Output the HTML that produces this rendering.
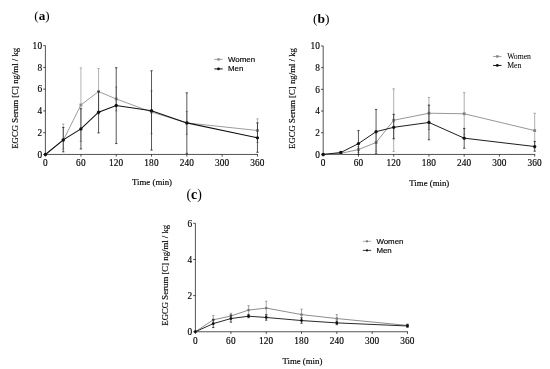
<!DOCTYPE html>
<html><head><meta charset="utf-8"><title>EGCG Serum</title>
<style>html,body{margin:0;padding:0;background:#fff}svg{display:block;will-change:transform;transform:translateZ(0)}</style></head>
<body>
<svg width="550" height="369" viewBox="0 0 550 369">
<rect width="550" height="369" fill="#fff"/>
<g font-family="'Liberation Serif', serif" font-size="8.8" fill="#000" stroke="#000" stroke-width="0.15">
<path d="M45.4 45.65 V154.45 H257.96" fill="none" stroke="#111" stroke-width="0.72"/>
<text x="42.2" y="157.75" text-anchor="end" font-size="9.3" letter-spacing="0.15">0</text>
<text x="42.2" y="135.99" text-anchor="end" font-size="9.3" letter-spacing="0.15">2</text>
<text x="42.2" y="114.23" text-anchor="end" font-size="9.3" letter-spacing="0.15">4</text>
<text x="42.2" y="92.47" text-anchor="end" font-size="9.3" letter-spacing="0.15">6</text>
<text x="42.2" y="70.71" text-anchor="end" font-size="9.3" letter-spacing="0.15">8</text>
<text x="42.2" y="48.95" text-anchor="end" font-size="9.3" letter-spacing="0.15">10</text>
<text x="45.4" y="166.15" text-anchor="middle" font-size="9.3" letter-spacing="0.15">0</text>
<text x="80.91" y="166.15" text-anchor="middle" font-size="9.3" letter-spacing="0.15">60</text>
<text x="116.22" y="166.15" text-anchor="middle" font-size="9.3" letter-spacing="0.15">120</text>
<text x="151.53" y="166.15" text-anchor="middle" font-size="9.3" letter-spacing="0.15">180</text>
<text x="186.84" y="166.15" text-anchor="middle" font-size="9.3" letter-spacing="0.15">240</text>
<text x="222.15" y="166.15" text-anchor="middle" font-size="9.3" letter-spacing="0.15">300</text>
<text x="257.46" y="166.15" text-anchor="middle" font-size="9.3" letter-spacing="0.15">360</text>
<path d="M45.4 154.45h-2.2M45.4 132.69h-2.2M45.4 110.93h-2.2M45.4 89.17h-2.2M45.4 67.41h-2.2M45.4 45.65h-2.2M45.4 154.45v2.2M80.91 154.45v2.2M116.22 154.45v2.2M151.53 154.45v2.2M186.84 154.45v2.2M222.15 154.45v2.2M257.46 154.45v2.2" fill="none" stroke="#111" stroke-width="0.72"/>
<text transform="translate(17.5 98.3) rotate(-90)" text-anchor="middle" font-size="8.75">EGCG Serum [C] ng/ml / kg</text>
<text x="152" y="184.8" text-anchor="middle">Time (min)</text>
<text x="34.3" y="19.8" font-size="13.1" font-weight="bold" fill="#000" stroke="none"><tspan font-weight="normal">(</tspan>a<tspan font-weight="normal">)</tspan></text>
</g>
<path d="M63.26 123.99V149.01M62.05 123.99h2.4M62.05 149.01h2.4M80.91 67.95V141.39M79.71 67.95h2.4M79.71 141.39h2.4M98.57 68.5V114.19M97.37 68.5h2.4M97.37 114.19h2.4M116.22 86.99V110.93M115.02 86.99h2.4M115.02 110.93h2.4M151.53 90.8V133.78M150.33 90.8h2.4M150.33 133.78h2.4M186.84 111.47V134.32M185.64 111.47h2.4M185.64 134.32h2.4M257.46 118.87V142.48M256.26 118.87h2.4M256.26 142.48h2.4" fill="none" stroke="#8a8a8a" stroke-width="0.65"/>
<polyline points="45.4,154.45 63.26,140.31 80.91,104.95 98.57,91.56 116.22,98.96 151.53,112.02 186.84,122.9 257.46,130.51" fill="none" stroke="#8a8a8a" stroke-width="0.85"/>
<rect x="44" y="153.05" width="2.8" height="2.8" fill="#8a8a8a"/>
<rect x="61.86" y="138.91" width="2.8" height="2.8" fill="#8a8a8a"/>
<rect x="79.51" y="103.55" width="2.8" height="2.8" fill="#8a8a8a"/>
<rect x="97.17" y="90.16" width="2.8" height="2.8" fill="#8a8a8a"/>
<rect x="114.82" y="97.56" width="2.8" height="2.8" fill="#8a8a8a"/>
<rect x="150.13" y="110.62" width="2.8" height="2.8" fill="#8a8a8a"/>
<rect x="185.44" y="121.5" width="2.8" height="2.8" fill="#8a8a8a"/>
<rect x="256.06" y="129.11" width="2.8" height="2.8" fill="#8a8a8a"/>
<path d="M63.26 127.47V151.84M62.05 127.47h2.4M62.05 151.84h2.4M80.91 108.75V149.01M79.71 108.75h2.4M79.71 149.01h2.4M98.57 91.35V132.91M97.37 91.35h2.4M97.37 132.91h2.4M116.22 67.74V143.57M115.02 67.74h2.4M115.02 143.57h2.4M151.53 70.78V150.1M150.33 70.78h2.4M150.33 150.1h2.4M186.84 92.87V153.36M185.64 92.87h2.4M185.64 153.36h2.4M257.46 122.9V152.27M256.26 122.9h2.4M256.26 152.27h2.4" fill="none" stroke="#111" stroke-width="0.7"/>
<polyline points="45.4,154.45 63.26,139.87 80.91,128.88 98.57,112.13 116.22,105.49 151.53,110.71 186.84,122.9 257.46,137.8" fill="none" stroke="#111" stroke-width="1.1"/>
<circle cx="45.4" cy="154.45" r="1.65" fill="#111"/>
<circle cx="63.26" cy="139.87" r="1.65" fill="#111"/>
<circle cx="80.91" cy="128.88" r="1.65" fill="#111"/>
<circle cx="98.57" cy="112.13" r="1.65" fill="#111"/>
<circle cx="116.22" cy="105.49" r="1.65" fill="#111"/>
<circle cx="151.53" cy="110.71" r="1.65" fill="#111"/>
<circle cx="186.84" cy="122.9" r="1.65" fill="#111"/>
<circle cx="257.46" cy="137.8" r="1.65" fill="#111"/>
<path d="M214.3 59.4h8.4" stroke="#8a8a8a" stroke-width="0.8"/>
<rect x="217.3" y="58.2" width="2.4" height="2.4" fill="#8a8a8a"/>
<path d="M214.3 68.9h8.4" stroke="#111" stroke-width="1"/>
<circle cx="218.5" cy="68.9" r="1.4" fill="#111"/>
<g font-family="'Liberation Sans', sans-serif" font-size="7.9" fill="#000" stroke="#000" stroke-width="0.15"><text x="228" y="62.1">Women</text><text x="228" y="71.4">Men</text></g>
<g font-family="'Liberation Serif', serif" font-size="8.8" fill="#000" stroke="#000" stroke-width="0.15">
<path d="M323.2 45.95 V154.45 H535.2" fill="none" stroke="#111" stroke-width="0.72"/>
<text x="320" y="157.75" text-anchor="end" font-size="9.3" letter-spacing="0.15">0</text>
<text x="320" y="136.05" text-anchor="end" font-size="9.3" letter-spacing="0.15">2</text>
<text x="320" y="114.35" text-anchor="end" font-size="9.3" letter-spacing="0.15">4</text>
<text x="320" y="92.65" text-anchor="end" font-size="9.3" letter-spacing="0.15">6</text>
<text x="320" y="70.95" text-anchor="end" font-size="9.3" letter-spacing="0.15">8</text>
<text x="320" y="49.25" text-anchor="end" font-size="9.3" letter-spacing="0.15">10</text>
<text x="323.2" y="166.15" text-anchor="middle" font-size="9.3" letter-spacing="0.15">0</text>
<text x="358.45" y="166.15" text-anchor="middle" font-size="9.3" letter-spacing="0.15">60</text>
<text x="393.7" y="166.15" text-anchor="middle" font-size="9.3" letter-spacing="0.15">120</text>
<text x="428.95" y="166.15" text-anchor="middle" font-size="9.3" letter-spacing="0.15">180</text>
<text x="464.2" y="166.15" text-anchor="middle" font-size="9.3" letter-spacing="0.15">240</text>
<text x="499.45" y="166.15" text-anchor="middle" font-size="9.3" letter-spacing="0.15">300</text>
<text x="534.7" y="166.15" text-anchor="middle" font-size="9.3" letter-spacing="0.15">360</text>
<path d="M323.2 154.45h-2.2M323.2 132.75h-2.2M323.2 111.05h-2.2M323.2 89.35h-2.2M323.2 67.65h-2.2M323.2 45.95h-2.2M323.2 154.45v2.2M358.45 154.45v2.2M393.7 154.45v2.2M428.95 154.45v2.2M464.2 154.45v2.2M499.45 154.45v2.2M534.7 154.45v2.2" fill="none" stroke="#111" stroke-width="0.72"/>
<text transform="translate(294.6 98.5) rotate(-90)" text-anchor="middle" font-size="8.75">EGCG Serum [C] ng/ml / kg</text>
<text x="429.3" y="185.8" text-anchor="middle">Time (min)</text>
<text x="313" y="23" font-size="13.5" font-weight="bold" fill="#000" stroke="none"><tspan font-weight="normal">(</tspan>b<tspan font-weight="normal">)</tspan></text>
</g>
<path d="M340.82 152.82V153.91M339.62 152.82h2.4M339.62 153.91h2.4M358.45 146.85V152.28M357.25 146.85h2.4M357.25 152.28h2.4M376.07 133.83V151.19M374.88 133.83h2.4M374.88 151.19h2.4M393.7 88.81V151.41M392.5 88.81h2.4M392.5 151.41h2.4M428.95 97.49V129.5M427.75 97.49h2.4M427.75 129.5h2.4M464.2 92.6V134.92M463 92.6h2.4M463 134.92h2.4M534.7 113.22V147.94M533.5 113.22h2.4M533.5 147.94h2.4" fill="none" stroke="#848484" stroke-width="0.65"/>
<polyline points="323.2,154.45 340.82,153.36 358.45,149.57 376.07,142.51 393.7,120.27 428.95,113.22 464.2,113.76 534.7,130.58" fill="none" stroke="#848484" stroke-width="0.85"/>
<rect x="321.8" y="153.05" width="2.8" height="2.8" fill="#848484"/>
<rect x="339.43" y="151.96" width="2.8" height="2.8" fill="#848484"/>
<rect x="357.05" y="148.17" width="2.8" height="2.8" fill="#848484"/>
<rect x="374.68" y="141.11" width="2.8" height="2.8" fill="#848484"/>
<rect x="392.3" y="118.87" width="2.8" height="2.8" fill="#848484"/>
<rect x="427.55" y="111.82" width="2.8" height="2.8" fill="#848484"/>
<rect x="462.8" y="112.36" width="2.8" height="2.8" fill="#848484"/>
<rect x="533.3" y="129.18" width="2.8" height="2.8" fill="#848484"/>
<path d="M340.82 151.63V153.36M339.62 151.63h2.4M339.62 153.36h2.4M358.45 130.58V154.45M357.25 130.58h2.4M357.25 154.45h2.4M376.07 109.42V153.36M374.88 109.42h2.4M374.88 153.36h2.4M393.7 114.3V138.72M392.5 114.3h2.4M392.5 138.72h2.4M428.95 105.08V139.8M427.75 105.08h2.4M427.75 139.8h2.4M464.2 128.41V148.27M463 128.41h2.4M463 148.27h2.4M534.7 141.43V151.19M533.5 141.43h2.4M533.5 151.19h2.4" fill="none" stroke="#111" stroke-width="0.7"/>
<polyline points="323.2,154.45 340.82,152.5 358.45,143.6 376.07,131.66 393.7,127.32 428.95,122.44 464.2,138.17 534.7,146.53" fill="none" stroke="#111" stroke-width="0.95"/>
<circle cx="323.2" cy="154.45" r="1.65" fill="#111"/>
<circle cx="340.82" cy="152.5" r="1.65" fill="#111"/>
<circle cx="358.45" cy="143.6" r="1.65" fill="#111"/>
<circle cx="376.07" cy="131.66" r="1.65" fill="#111"/>
<circle cx="393.7" cy="127.32" r="1.65" fill="#111"/>
<circle cx="428.95" cy="122.44" r="1.65" fill="#111"/>
<circle cx="464.2" cy="138.17" r="1.65" fill="#111"/>
<circle cx="534.7" cy="146.53" r="1.65" fill="#111"/>
<path d="M493.1 56.45h8.4" stroke="#848484" stroke-width="0.8"/>
<rect x="496.1" y="55.25" width="2.4" height="2.4" fill="#848484"/>
<path d="M493.1 65.45h8.4" stroke="#111" stroke-width="1"/>
<circle cx="497.3" cy="65.45" r="1.4" fill="#111"/>
<g font-family="'Liberation Serif', sans-serif" font-size="7.7" fill="#000" stroke="#000" stroke-width="0.05"><text x="507.2" y="59.15">Women</text><text x="507.2" y="67.95">Men</text></g>
<g font-family="'Liberation Serif', serif" font-size="8.8" fill="#000" stroke="#000" stroke-width="0.15">
<path d="M195.4 223.33 V331.75 H407.96" fill="none" stroke="#111" stroke-width="0.72"/>
<text x="192.2" y="335.05" text-anchor="end" font-size="9.3" letter-spacing="0.15">0</text>
<text x="192.2" y="298.91" text-anchor="end" font-size="9.3" letter-spacing="0.15">2</text>
<text x="192.2" y="262.77" text-anchor="end" font-size="9.3" letter-spacing="0.15">4</text>
<text x="192.2" y="226.63" text-anchor="end" font-size="9.3" letter-spacing="0.15">6</text>
<text x="195.4" y="344.25" text-anchor="middle" font-size="9.3" letter-spacing="0.15">0</text>
<text x="230.91" y="344.25" text-anchor="middle" font-size="9.3" letter-spacing="0.15">60</text>
<text x="266.22" y="344.25" text-anchor="middle" font-size="9.3" letter-spacing="0.15">120</text>
<text x="301.53" y="344.25" text-anchor="middle" font-size="9.3" letter-spacing="0.15">180</text>
<text x="336.84" y="344.25" text-anchor="middle" font-size="9.3" letter-spacing="0.15">240</text>
<text x="372.15" y="344.25" text-anchor="middle" font-size="9.3" letter-spacing="0.15">300</text>
<text x="407.46" y="344.25" text-anchor="middle" font-size="9.3" letter-spacing="0.15">360</text>
<path d="M195.4 331.75h-2.2M195.4 295.61h-2.2M195.4 259.47h-2.2M195.4 223.33h-2.2M195.4 331.75v2.2M230.91 331.75v2.2M266.22 331.75v2.2M301.53 331.75v2.2M336.84 331.75v2.2M372.15 331.75v2.2M407.46 331.75v2.2" fill="none" stroke="#111" stroke-width="0.72"/>
<text transform="translate(167.7 275.2) rotate(-90)" text-anchor="middle" font-size="8.75">EGCG Serum [C] ng/ml / kg</text>
<text x="302.4" y="364" text-anchor="middle">Time (min)</text>
<text x="186.4" y="199.2" font-size="13.9" font-weight="bold" fill="#000" stroke="none"><tspan font-weight="normal">(</tspan>c<tspan font-weight="normal">)</tspan></text>
</g>
<path d="M213.25 315.49V324.16M212.06 315.49h2.4M212.06 324.16h2.4M230.91 313.32V318.74M229.71 313.32h2.4M229.71 318.74h2.4M248.56 305.73V314.4M247.37 305.73h2.4M247.37 314.4h2.4M266.22 301.21V314.94M265.02 301.21h2.4M265.02 314.94h2.4M301.53 309.16V320M300.33 309.16h2.4M300.33 320h2.4M336.84 314.58V322.53M335.64 314.58h2.4M335.64 322.53h2.4M407.46 323.98V326.87M406.26 323.98h2.4M406.26 326.87h2.4" fill="none" stroke="#787878" stroke-width="0.65"/>
<polyline points="195.4,331.75 213.25,319.82 230.91,316.03 248.56,310.07 266.22,308.08 301.53,314.58 336.84,318.56 407.46,325.43" fill="none" stroke="#787878" stroke-width="0.85"/>
<rect x="194.25" y="330.6" width="2.3" height="2.3" fill="#787878"/>
<rect x="212.1" y="318.67" width="2.3" height="2.3" fill="#787878"/>
<rect x="229.76" y="314.88" width="2.3" height="2.3" fill="#787878"/>
<rect x="247.41" y="308.92" width="2.3" height="2.3" fill="#787878"/>
<rect x="265.07" y="306.93" width="2.3" height="2.3" fill="#787878"/>
<rect x="300.38" y="313.43" width="2.3" height="2.3" fill="#787878"/>
<rect x="335.69" y="317.41" width="2.3" height="2.3" fill="#787878"/>
<rect x="406.31" y="324.28" width="2.3" height="2.3" fill="#787878"/>
<path d="M213.25 319.64V327.59M212.06 319.64h2.4M212.06 327.59h2.4M230.91 314.94V322.17M229.71 314.94h2.4M229.71 322.17h2.4M248.56 314.76V317.66M247.37 314.76h2.4M247.37 317.66h2.4M266.22 314.76V320.19M265.02 314.76h2.4M265.02 320.19h2.4M301.53 317.84V323.26M300.33 317.84h2.4M300.33 323.26h2.4M336.84 321.09V324.7M335.64 321.09h2.4M335.64 324.7h2.4M407.46 324.7V327.23M406.26 324.7h2.4M406.26 327.23h2.4" fill="none" stroke="#111" stroke-width="0.7"/>
<polyline points="195.4,331.75 213.25,323.62 230.91,318.56 248.56,316.21 266.22,317.47 301.53,320.55 336.84,322.9 407.46,325.97" fill="none" stroke="#111" stroke-width="0.9"/>
<circle cx="195.4" cy="331.75" r="1.4" fill="#111"/>
<circle cx="213.25" cy="323.62" r="1.4" fill="#111"/>
<circle cx="230.91" cy="318.56" r="1.4" fill="#111"/>
<circle cx="248.56" cy="316.21" r="1.4" fill="#111"/>
<circle cx="266.22" cy="317.47" r="1.4" fill="#111"/>
<circle cx="301.53" cy="320.55" r="1.4" fill="#111"/>
<circle cx="336.84" cy="322.9" r="1.4" fill="#111"/>
<circle cx="407.46" cy="325.97" r="1.4" fill="#111"/>
<path d="M362.8 241.3h8.4" stroke="#787878" stroke-width="0.64"/>
<rect x="366.04" y="240.34" width="1.92" height="1.92" fill="#787878"/>
<path d="M362.8 250.4h8.4" stroke="#111" stroke-width="0.8"/>
<circle cx="367" cy="250.4" r="1.12" fill="#111"/>
<g font-family="'Liberation Sans', sans-serif" font-size="7.9" fill="#000" stroke="#000" stroke-width="0.15"><text x="376.4" y="244">Women</text><text x="376.4" y="252.9">Men</text></g>
</svg>
</body></html>
